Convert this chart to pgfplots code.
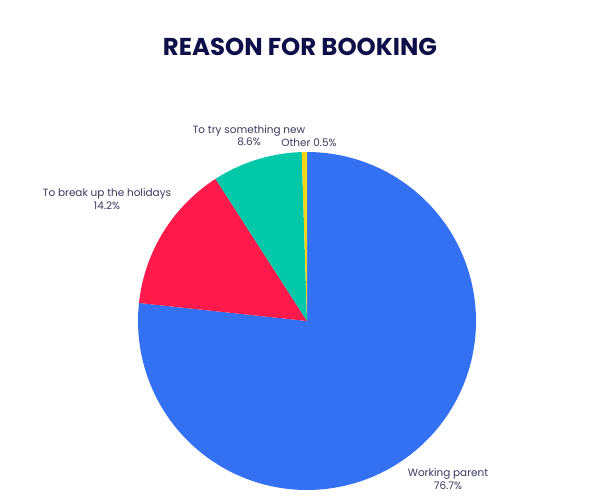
\documentclass[border=0pt]{standalone}
\usepackage{pgfplots}
\pgfplotsset{compat=1.18}
\usepackage{fontspec}
\setmainfont{Poppins}

\definecolor{cWork}{HTML}{3371F2}
\definecolor{cBreak}{HTML}{FF1A4B}
\definecolor{cNew}{HTML}{00C8A8}
\definecolor{cOther}{HTML}{F5D316}
\definecolor{labtext}{HTML}{3A3A60}
\definecolor{titletext}{HTML}{0E0E48}

% shares in percent, clockwise from 12 o'clock
\def\pWork{76.7}
\def\pBreak{14.2}
\def\pNew{8.6}
\def\pOther{0.5}
% slice boundaries (degrees)
\pgfmathsetmacro\aA{90}
\pgfmathsetmacro\aB{\aA-3.6*\pWork}
\pgfmathsetmacro\aC{\aB-3.6*\pBreak}
\pgfmathsetmacro\aD{\aC-3.6*\pNew}
\pgfmathsetmacro\aE{\aD-3.6*\pOther}
\def\cx{307}\def\cy{321}\def\rr{169}

\begin{document}
\begin{tikzpicture}[
  lab/.style={font=\fontsize{10.5}{12.5}\selectfont, text=labtext, align=center},
]
\begin{axis}[
  width=600bp, height=500bp, scale only axis,
  xmin=0, xmax=600, ymin=0, ymax=500, y dir=reverse,
  enlargelimits=false,
  hide axis,
  clip=false,
  every axis plot/.append style={draw=none, line join=round},
]
\path (rel axis cs:0,0) rectangle (rel axis cs:1,1);
\addplot[fill=cWork, domain=\aB:\aA, samples=200]
  ({\cx+\rr*cos(x)}, {\cy-\rr*sin(x)}) -- (axis cs:\cx,\cy) -- cycle;
\addplot[fill=cBreak, domain=\aC:\aB, samples=60]
  ({\cx+\rr*cos(x)}, {\cy-\rr*sin(x)}) -- (axis cs:\cx,\cy) -- cycle;
\addplot[fill=cNew, domain=\aD:\aC, samples=40]
  ({\cx+\rr*cos(x)}, {\cy-\rr*sin(x)}) -- (axis cs:\cx,\cy) -- cycle;
\addplot[fill=cOther, domain=\aE:\aD, samples=5]
  ({\cx+\rr*cos(x)}, {\cy-\rr*sin(x)}) -- (axis cs:\cx,\cy) -- cycle;

\node[font=\fontsize{24.5}{28}\selectfont\bfseries, text=titletext] at (axis cs:300,47) {REASON FOR BOOKING};
\node[lab] at (axis cs:249,135.5) {To try something new\\8.6\%};
\node[lab] at (axis cs:309,143) {Other 0.5\%};
\node[lab] at (axis cs:107,199) {To break up the holidays\\14.2\%};
\node[lab] at (axis cs:448,479) {Working parent\\76.7\%};
\end{axis}
\end{tikzpicture}
\end{document}
